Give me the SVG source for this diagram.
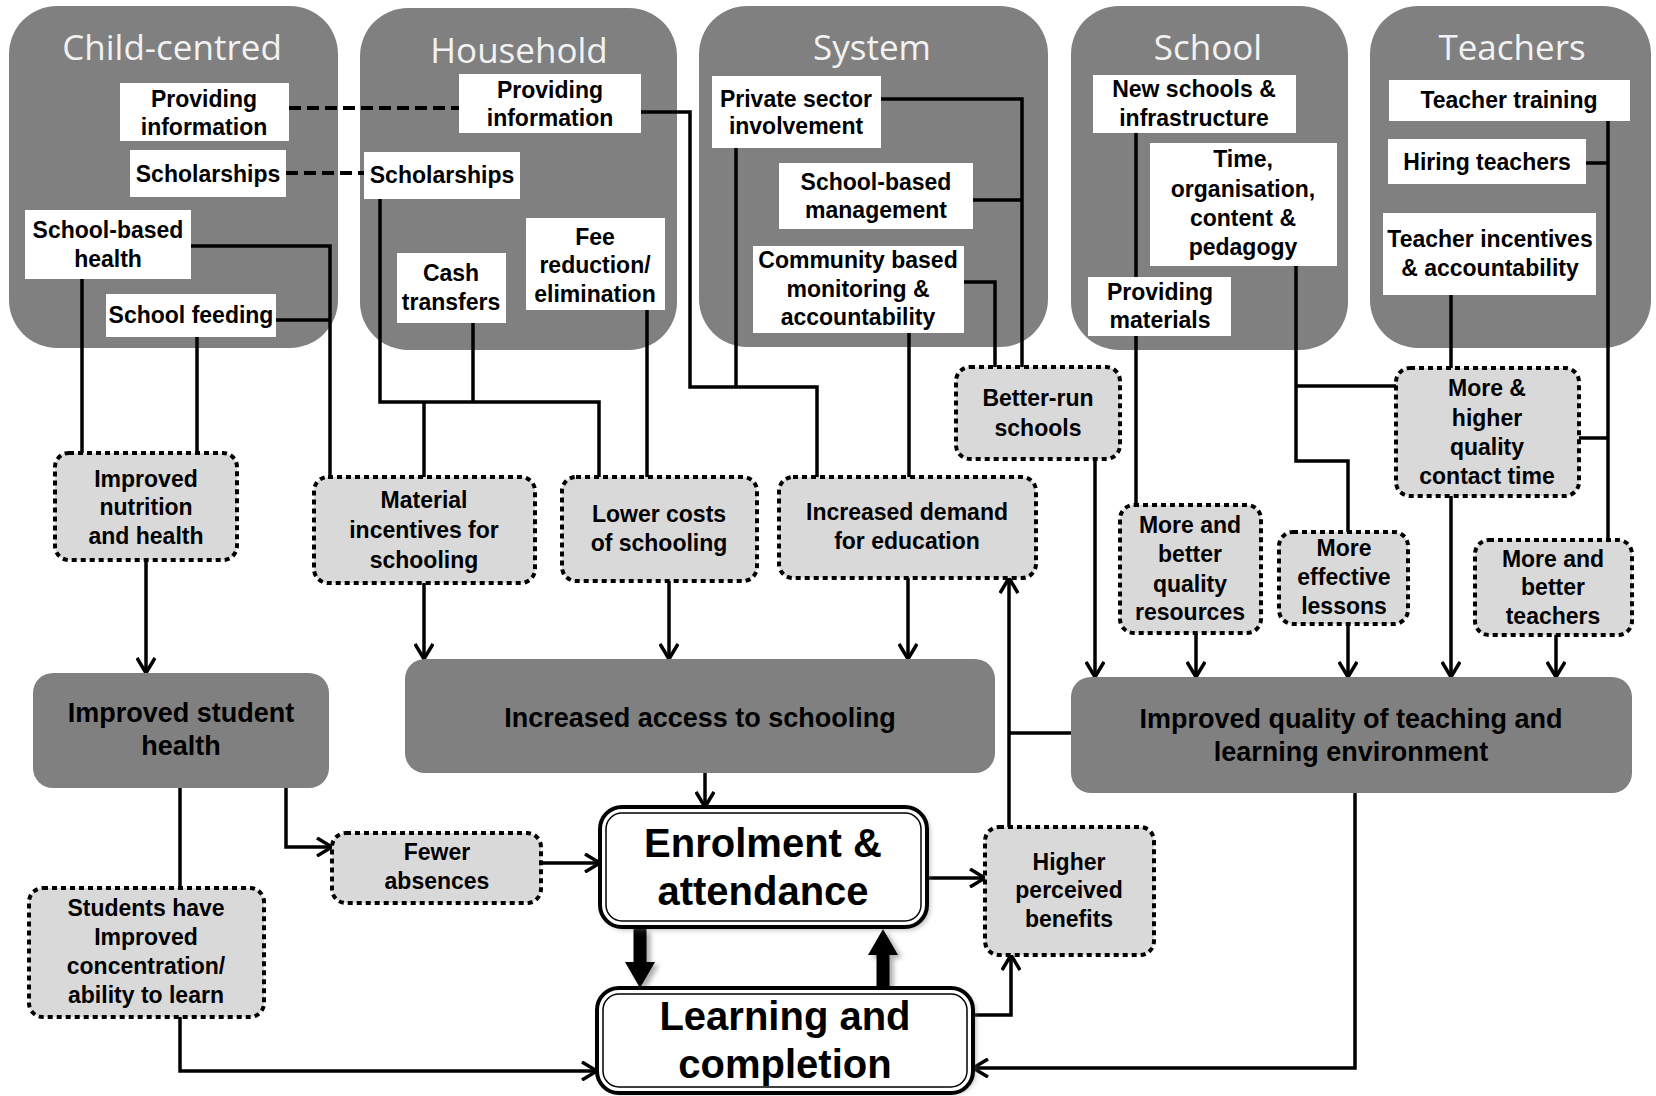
<svg xmlns="http://www.w3.org/2000/svg" width="1656" height="1096" viewBox="0 0 1656 1096">
<defs>
<style>
.panel{fill:#808080}
.title{font-family:"Open Sans","Liberation Sans",sans-serif;font-size:35px;fill:#f2f2f2;text-anchor:middle}
.wb{fill:#fff}
.t{font-family:"Liberation Sans",Arial,sans-serif;font-weight:700;font-size:23px;text-anchor:middle;fill:#000}
.bt{font-family:"Liberation Sans",Arial,sans-serif;font-weight:700;font-size:27px;text-anchor:middle;fill:#000}
.big{font-family:"Liberation Sans",Arial,sans-serif;font-weight:700;font-size:40px;text-anchor:middle;fill:#000}
.dot{fill:#d9d9d9;stroke:#000;stroke-width:4;stroke-dasharray:5 4}
.gbox{fill:#808080}
.ln{stroke:#000;stroke-width:3.5;fill:none}
.dash{stroke-dasharray:12 6;stroke-width:4}
.arr{marker-end:url(#ah)}
.ob{fill:#fff;stroke:#000;stroke-width:4}
.ib{fill:none;stroke:#000;stroke-width:1.5}
</style>
<marker id="ah" viewBox="0 0 20 20" refX="18" refY="10" markerWidth="20" markerHeight="20" orient="auto" markerUnits="userSpaceOnUse">
<path d="M3,1 L18,10 L3,19" fill="none" stroke="#000" stroke-width="3.5"/>
</marker>
<filter id="sh" x="-10%" y="-10%" width="130%" height="130%">
<feGaussianBlur stdDeviation="2.5"/>
</filter>
</defs>

<!-- panels -->
<g id="child-centred"><rect class="panel" x="9" y="6" width="329" height="342" rx="48"/><text class="title" x="172" y="60">Child-centred</text></g>
<g id="household"><rect class="panel" x="360" y="8" width="317" height="342" rx="48"/><text class="title" x="519" y="63">Household</text></g>
<g id="system"><rect class="panel" x="699" y="6" width="349" height="341" rx="48"/><text class="title" x="872" y="60">System</text></g>
<g id="school"><rect class="panel" x="1071" y="6" width="277" height="344" rx="48"/><text class="title" x="1208" y="60">School</text></g>
<g id="teachers"><rect class="panel" x="1370" y="6" width="281" height="342" rx="48"/><text class="title" x="1512" y="60">Teachers</text></g>

<!-- connectors -->
<g id="connectors">
<path class="ln dash" d="M289,108 H459"/>
<path class="ln dash" d="M286,173 H364"/>
<path class="ln" d="M82,279 V453"/>
<path class="ln" d="M197,337 V453"/>
<path class="ln" d="M191,246 H330 V477"/>
<path class="ln" d="M276,320 H330"/>
<path class="ln" d="M380,199 V402 H599 V477"/>
<path class="ln" d="M473,323 V402"/>
<path class="ln" d="M424,402 V477"/>
<path class="ln" d="M647,310 V477"/>
<path class="ln" d="M641,112 H690 V387 H817 V477"/>
<path class="ln" d="M736,148 V387"/>
<path class="ln" d="M909,333 V477"/>
<path class="ln" d="M881,99 H1022 V367"/>
<path class="ln" d="M973,200 H1022"/>
<path class="ln" d="M964,282 H995 V367"/>
<path class="ln" d="M1136,133 V505"/>
<path class="ln" d="M1296,266 V461 H1348 V532"/>
<path class="ln" d="M1296,386 H1396"/>
<path class="ln" d="M1451,295 V368"/>
<path class="ln" d="M1608,121 V540"/>
<path class="ln" d="M1586,163 H1608"/>
<path class="ln" d="M1579,438 H1608"/>
<path class="ln arr" d="M146,560 V673"/>
<path class="ln arr" d="M424,583 V659"/>
<path class="ln arr" d="M669,581 V659"/>
<path class="ln arr" d="M908,578 V659"/>
<path class="ln arr" d="M1095,459 V677"/>
<path class="ln arr" d="M1196,633 V677"/>
<path class="ln arr" d="M1348,624 V677"/>
<path class="ln arr" d="M1451,496 V677"/>
<path class="ln arr" d="M1556,635 V677"/>
<path class="ln arr" d="M705,773 V807"/>
<path class="ln arr" d="M286,788 V847 H332"/>
<path class="ln" d="M180,788 V888"/>
<path class="ln arr" d="M180,1017 V1071 H597"/>
<path class="ln arr" d="M541,863 H600"/>
<path class="ln arr" d="M927,878 H985"/>
<path class="ln arr" d="M973,1015 H1011 V955"/>
<path class="ln arr" d="M1009,827 V578"/>
<path class="ln" d="M1071,733 H1009"/>
<path class="ln arr" d="M1355,793 V1068 H973"/>
<g filter="url(#sh)" fill="#888" opacity="0.7">
<polygon points="637.5,932 650.5,932 650.5,965 659,965 644,991 629,965 637.5,965"/>
<polygon points="887,932 902,958 893.5,958 893.5,991 880.5,991 880.5,958 872,958"/>
</g>
<polygon points="633.5,929 646.5,929 646.5,962 655,962 640,988 625,962 633.5,962" fill="#000"/>
<polygon points="883,929 898,955 889.5,955 889.5,988 876.5,988 876.5,955 868,955" fill="#000"/>
</g>

<!-- intervention boxes -->
<g id="cc-info"><rect class="wb" x="120" y="83" width="169" height="58"/><text class="t"><tspan x="204" y="107">Providing</tspan><tspan x="204" y="135">information</tspan></text></g>
<g id="cc-scholarships"><rect class="wb" x="130" y="150" width="156" height="47"/><text class="t" x="208" y="182">Scholarships</text></g>
<g id="cc-health"><rect class="wb" x="25" y="210" width="166" height="69"/><text class="t"><tspan x="108" y="238">School-based</tspan><tspan x="108" y="267">health</tspan></text></g>
<g id="cc-feeding"><rect class="wb" x="106" y="294" width="170" height="43"/><text class="t" x="191" y="323">School feeding</text></g>
<g id="hh-info"><rect class="wb" x="459" y="74" width="182" height="59"/><text class="t"><tspan x="550" y="98">Providing</tspan><tspan x="550" y="126">information</tspan></text></g>
<g id="hh-scholarships"><rect class="wb" x="364" y="152" width="156" height="47"/><text class="t" x="442" y="183">Scholarships</text></g>
<g id="hh-cash"><rect class="wb" x="397" y="253" width="109" height="70"/><text class="t"><tspan x="451" y="281">Cash</tspan><tspan x="451" y="310">transfers</tspan></text></g>
<g id="hh-fee"><rect class="wb" x="526" y="218" width="139" height="92"/><text class="t"><tspan x="595" y="245">Fee</tspan><tspan x="595" y="273">reduction/</tspan><tspan x="595" y="302">elimination</tspan></text></g>
<g id="sys-private"><rect class="wb" x="712" y="76" width="169" height="72"/><text class="t"><tspan x="796" y="107">Private sector</tspan><tspan x="796" y="134">involvement</tspan></text></g>
<g id="sys-sbm"><rect class="wb" x="779" y="163" width="194" height="66"/><text class="t"><tspan x="876" y="190">School-based</tspan><tspan x="876" y="218">management</tspan></text></g>
<g id="sys-community"><rect class="wb" x="753" y="246" width="211" height="87"/><text class="t"><tspan x="858" y="268">Community based</tspan><tspan x="858" y="297">monitoring &amp;</tspan><tspan x="858" y="325">accountability</tspan></text></g>
<g id="sch-new"><rect class="wb" x="1093" y="75" width="203" height="58"/><text class="t"><tspan x="1194" y="97">New schools &amp;</tspan><tspan x="1194" y="126">infrastructure</tspan></text></g>
<g id="sch-time"><rect class="wb" x="1150" y="143" width="187" height="123"/><text class="t"><tspan x="1243" y="167">Time,</tspan><tspan x="1243" y="197">organisation,</tspan><tspan x="1243" y="226">content &amp;</tspan><tspan x="1243" y="255">pedagogy</tspan></text></g>
<g id="sch-materials"><rect class="wb" x="1088" y="277" width="143" height="59"/><text class="t"><tspan x="1160" y="300">Providing</tspan><tspan x="1160" y="328">materials</tspan></text></g>
<g id="tch-training"><rect class="wb" x="1389" y="80" width="241" height="41"/><text class="t" x="1509" y="108">Teacher training</text></g>
<g id="tch-hiring"><rect class="wb" x="1388" y="139" width="198" height="45"/><text class="t" x="1487" y="170">Hiring teachers</text></g>
<g id="tch-incentives"><rect class="wb" x="1383" y="213" width="213" height="82"/><text class="t"><tspan x="1490" y="247">Teacher incentives</tspan><tspan x="1490" y="276">&amp; accountability</tspan></text></g>

<!-- intermediate outcomes -->
<g id="nutrition"><rect class="dot" x="55" y="453" width="182" height="107" rx="14"/><text class="t"><tspan x="146" y="487">Improved</tspan><tspan x="146" y="515">nutrition</tspan><tspan x="146" y="544">and health</tspan></text></g>
<g id="material"><rect class="dot" x="314" y="477" width="221" height="106" rx="14"/><text class="t"><tspan x="424" y="508">Material</tspan><tspan x="424" y="538">incentives for</tspan><tspan x="424" y="568">schooling</tspan></text></g>
<g id="lower-costs"><rect class="dot" x="562" y="477" width="195" height="104" rx="14"/><text class="t"><tspan x="659" y="522">Lower costs</tspan><tspan x="659" y="551">of schooling</tspan></text></g>
<g id="demand"><rect class="dot" x="779" y="477" width="257" height="101" rx="14"/><text class="t"><tspan x="907" y="520">Increased demand</tspan><tspan x="907" y="549">for education</tspan></text></g>
<g id="better-run"><rect class="dot" x="956" y="367" width="164" height="92" rx="14"/><text class="t"><tspan x="1038" y="406">Better-run</tspan><tspan x="1038" y="436">schools</tspan></text></g>
<g id="resources"><rect class="dot" x="1120" y="505" width="141" height="128" rx="14"/><text class="t"><tspan x="1190" y="533">More and</tspan><tspan x="1190" y="562">better</tspan><tspan x="1190" y="592">quality</tspan><tspan x="1190" y="620">resources</tspan></text></g>
<g id="lessons"><rect class="dot" x="1279" y="532" width="129" height="92" rx="14"/><text class="t"><tspan x="1344" y="556">More</tspan><tspan x="1344" y="585">effective</tspan><tspan x="1344" y="614">lessons</tspan></text></g>
<g id="contact-time"><rect class="dot" x="1396" y="368" width="183" height="128" rx="14"/><text class="t"><tspan x="1487" y="396">More &amp;</tspan><tspan x="1487" y="426">higher</tspan><tspan x="1487" y="455">quality</tspan><tspan x="1487" y="484">contact time</tspan></text></g>
<g id="better-teachers"><rect class="dot" x="1475" y="540" width="157" height="95" rx="14"/><text class="t"><tspan x="1553" y="567">More and</tspan><tspan x="1553" y="595">better</tspan><tspan x="1553" y="624">teachers</tspan></text></g>
<g id="absences"><rect class="dot" x="332" y="833" width="209" height="70" rx="14"/><text class="t"><tspan x="437" y="860">Fewer</tspan><tspan x="437" y="889">absences</tspan></text></g>
<g id="concentration"><rect class="dot" x="29" y="888" width="235" height="129" rx="14"/><text class="t"><tspan x="146" y="916">Students have</tspan><tspan x="146" y="945">Improved</tspan><tspan x="146" y="974">concentration/</tspan><tspan x="146" y="1003">ability to learn</tspan></text></g>
<g id="benefits"><rect class="dot" x="985" y="827" width="169" height="128" rx="14"/><text class="t"><tspan x="1069" y="870">Higher</tspan><tspan x="1069" y="898">perceived</tspan><tspan x="1069" y="927">benefits</tspan></text></g>

<!-- main outcomes -->
<g id="student-health"><rect class="gbox" x="33" y="673" width="296" height="115" rx="20"/><text class="bt"><tspan x="181" y="722">Improved student</tspan><tspan x="181" y="755">health</tspan></text></g>
<g id="access"><rect class="gbox" x="405" y="659" width="590" height="114" rx="20"/><text class="bt" x="700" y="727">Increased access to schooling</text></g>
<g id="quality"><rect class="gbox" x="1071" y="677" width="561" height="116" rx="20"/><text class="bt"><tspan x="1351" y="728">Improved quality of teaching and</tspan><tspan x="1351" y="761">learning environment</tspan></text></g>
<g id="enrolment"><rect x="603" y="810" width="327" height="120" rx="22" fill="#777" opacity="0.5" filter="url(#sh)"/><rect class="ob" x="600" y="807" width="327" height="120" rx="22"/><rect class="ib" x="606" y="813" width="315" height="108" rx="16"/><text class="big"><tspan x="763" y="857">Enrolment &amp;</tspan><tspan x="763" y="905">attendance</tspan></text></g>
<g id="learning"><rect x="600" y="991" width="376" height="103" rx="22" fill="#777" opacity="0.5" filter="url(#sh)"/><rect class="ob" x="597" y="988" width="376" height="105" rx="22"/><rect class="ib" x="603" y="994" width="364" height="93" rx="16"/><text class="big"><tspan x="785" y="1030">Learning and</tspan><tspan x="785" y="1078">completion</tspan></text></g>
</svg>
